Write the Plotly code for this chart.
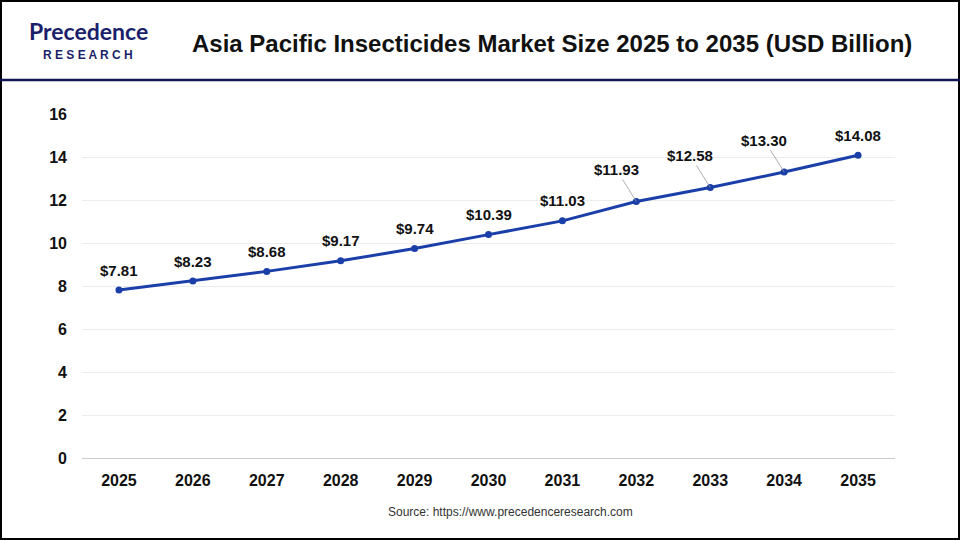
import plotly.graph_objects as go

years = ["2025", "2026", "2027", "2028", "2029", "2030", "2031", "2032", "2033", "2034", "2035"]
market_size = [7.81, 8.23, 8.68, 9.17, 9.74, 10.39, 11.03, 11.93, 12.58, 13.30, 14.08]
y_ticks = [0, 2, 4, 6, 8, 10, 12, 14, 16]

W, H = 960, 540
L, R, T, B = 82, 65, 114, 82
pw, ph = W - L - R, H - T - B


def px_x(x):
    return (x - L) / pw


def px_y(y):
    return (H - B - y) / ph


fig = go.Figure()
fig.add_trace(go.Scatter(
    x=years, y=market_size, mode="lines+markers",
    line=dict(color="#1a3fa8", width=3),
    marker=dict(size=7, color="#1a3fa8"),
    hoverinfo="skip",
))

# value labels, a few with leader lines
for i, (yr, v) in enumerate(zip(years, market_size)):
    lead = yr in ("2032", "2033", "2034")
    fig.add_annotation(
        x=i, y=v, xref="x", yref="y", text=f"<b>&#36;{v:.2f}</b>",
        showarrow=True, arrowhead=0, arrowwidth=0.8,
        arrowcolor="#999999" if lead else "rgba(0,0,0,0)",
        ax=-20 if lead else 0, ay=-32 if lead else -20,
        font=dict(family="Liberation Sans, Arial", size=15, color="#111111"),
    )

fig.update_layout(
    width=W, height=H,
    margin=dict(l=L, r=R, t=T, b=B),
    paper_bgcolor="white", plot_bgcolor="white",
    showlegend=False,
    font=dict(family="Liberation Sans, Arial", color="#111111"),
    xaxis=dict(
        type="category", range=[-0.5, 10.5],
        showgrid=False, showline=True, linecolor="#cccccc",
        tickfont=dict(size=16, color="#111111", weight="bold"),
        ticks="", ticklabelstandoff=8,
    ),
    yaxis=dict(
        range=[0, 16], tickvals=y_ticks,
        gridcolor="#ececec", zeroline=False, showline=False,
        tickfont=dict(size=16, color="#111111", weight="bold"),
        ticklabelstandoff=14,
    ),
    shapes=[
        dict(type="rect", xref="paper", yref="paper", x0=px_x(1), x1=px_x(W - 1),
             y0=px_y(H - 1), y1=px_y(1), line=dict(color="#000000", width=2)),
        dict(type="line", xref="paper", yref="paper", x0=px_x(0), x1=px_x(W),
             y0=px_y(80), y1=px_y(80), line=dict(color="#0d1650", width=2.5)),
    ],
)

fig.add_annotation(xref="paper", yref="paper", x=px_x(552), y=px_y(43),
                   xanchor="center", yanchor="middle",
                   text="<b>Asia Pacific Insecticides Market Size 2025 to 2035 (USD Billion)</b>",
                   showarrow=False, font=dict(size=24, color="#111111"))
fig.add_annotation(xref="paper", yref="paper", x=px_x(88), y=px_y(31),
                   xanchor="center", yanchor="middle",
                   text="<b>Precedence</b>", showarrow=False,
                   font=dict(size=23, family="Lato", color="#1b1f6b"))
fig.add_annotation(xref="paper", yref="paper", x=px_x(88), y=px_y(55),
                   xanchor="center", yanchor="middle",
                   text="<b>R E S E A R C H</b>", showarrow=False,
                   font=dict(size=12, color="#1b1f6b"))
fig.add_annotation(xref="paper", yref="paper", x=px_x(510), y=px_y(512),
                   xanchor="center", yanchor="middle",
                   text="Source: https://www.precedenceresearch.com", showarrow=False,
                   font=dict(size=12, color="#333333"))

fig.write_html("out.html", config={"displayModeBar": False})

# drop the default page margin so the figure sits at the window corner
with open("out.html", encoding="utf-8") as f:
    page = f.read()
page = page.replace("<body>", '<body style="margin:0">', 1)
with open("out.html", "w", encoding="utf-8") as f:
    f.write(page)
